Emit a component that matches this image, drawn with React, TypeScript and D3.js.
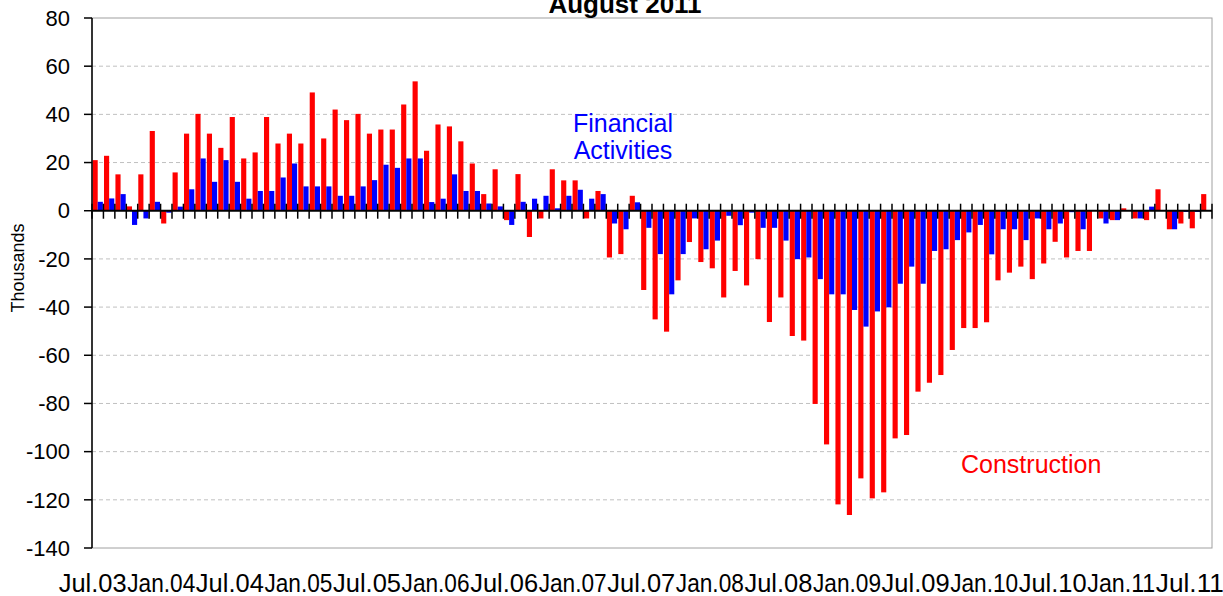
import React from 'react';
import * as d3 from 'd3';

// monthly change, thousands of jobs, Jul.03 - Aug.11
const construction = [
  21.0, 22.8, 15.1, 1.8, 15.1, 33.1, -5.3, 15.9, 32.0, 40.2, 32.0, 26.1,
  38.9, 21.7, 24.2, 38.9, 27.9, 32.0, 27.9, 49.1, 30.0, 42.0, 37.6, 40.2,
  32.0, 33.7, 33.7, 44.1, 53.7, 24.9, 35.8, 35.0, 28.8, 19.6, 6.9, 17.2,
  -3.9, 15.2, -10.9, -3.2, 17.2, 12.6, 12.6, -3.2, 8.2, -19.4, -18.0, 6.2,
  -32.9, -45.1, -50.2, -28.9, -13.0, -21.3, -23.9, -36.0, -25.0, -31.0, -20.1, -46.2,
  -36.0, -52.0, -53.9, -80.2, -97.0, -121.9, -126.3, -111.1, -119.4, -116.9, -94.5, -93.1,
  -75.1, -71.4, -68.2, -57.8, -48.7, -48.7, -46.3, -28.9, -25.7, -23.2, -28.4, -21.9,
  -12.9, -19.4, -16.7, -16.7, -3.2, -3.9, 1.0, -3.2, -3.9, 8.9, -7.7, -5.3,
  -7.3, 6.9,
];

const financial = [
  3.7, 5.1, 6.9, -5.9, -3.2, 3.7, -0.8, 1.7, 8.9, 21.7, 12.0, 21.0,
  12.0, 5.0, 8.2, 8.2, 13.8, 19.6, 10.1, 10.1, 10.1, 6.2, 6.2, 10.1,
  12.7, 19.1, 17.8, 21.7, 21.7, 3.6, 5.0, 15.1, 8.2, 8.2, 3.0, 1.8,
  -5.9, 3.7, 5.0, 6.2, 1.0, 6.2, 8.7, 5.0, 6.9, -5.3, -7.7, 3.5,
  -7.1, -18.0, -34.7, -18.0, -3.2, -16.0, -12.4, -2.1, -6.0, -0.8, -7.1, -7.1,
  -12.4, -20.1, -19.4, -28.4, -34.7, -34.7, -41.2, -48.1, -41.8, -40.1, -30.3, -23.2,
  -30.3, -16.7, -16.0, -12.2, -9.0, -5.9, -18.1, -7.7, -7.7, -12.2, -3.2, -7.7,
  -5.3, -0.6, -7.7, 0, -5.3, -3.9, 0, -3.2, 1.7, 0, -7.7, -0.5,
  -0.5, 0,
];

const months = d3
  .timeMonth.range(new Date(2003, 6, 1), new Date(2011, 8, 1))
  .map(d3.timeFormat('%b.%y'));

const tickLabels = [
  'Jul.03', 'Jan.04', 'Jul.04', 'Jan.05', 'Jul.05', 'Jan.06', 'Jul.06', 'Jan.07',
  'Jul.07', 'Jan.08', 'Jul.08', 'Jan.09', 'Jul.09', 'Jan.10', 'Jul.10', 'Jan.11', 'Jul.11',
];

const yTicks = [80, 60, 40, 20, 0, -20, -40, -60, -80, -100, -120, -140];

const series = ['construction', 'financial'];
const colors: Record<string, string> = { construction: '#ff0000', financial: '#0000ff' };

const dims = { width: 1223, height: 596, left: 92, right: 1212, top: 18, bottom: 548 };
const font = '"Liberation Sans", Arial, sans-serif';

const App = () => {
  const x = d3
    .scaleBand<string>()
    .domain(months)
    .range([dims.left, dims.right])
    .paddingInner(0.1)
    .paddingOuter(0.05);
  const xSub = d3.scaleBand<string>().domain(series).range([0, x.bandwidth()]);
  const y = d3.scaleLinear().domain([-140, 80]).range([dims.bottom, dims.top]);

  const gap = (x.step() - x.bandwidth()) / 2;
  const boundaries = months.map((m) => (x(m) as number) - gap).concat([dims.right]);

  const rows = months.map((m, i) => ({
    month: m,
    construction: construction[i],
    financial: financial[i],
  }));

  return (
    <svg
      width={dims.width}
      height={dims.height}
      style={{ position: 'absolute', left: 0, top: 0, background: '#fff' }}
      fontFamily={font}
    >
      <rect width={dims.width} height={dims.height} fill="#fff" />

      {/* gridlines */}
      {yTicks
        .filter((t) => t !== 0 && t !== 80 && t !== -140)
        .map((t) => (
          <line
            key={t}
            x1={dims.left}
            x2={dims.right}
            y1={y(t)}
            y2={y(t)}
            stroke="#c0c0c0"
            strokeDasharray="4,3"
          />
        ))}

      {/* plot border */}
      <rect
        x={dims.left}
        y={dims.top}
        width={dims.right - dims.left}
        height={dims.bottom - dims.top}
        fill="none"
        stroke="#a0a0a0"
      />

      {/* bars */}
      {rows.map((r) =>
        series.map((s) => {
          const v = (r as any)[s] as number;
          return (
            <rect
              key={r.month + s}
              x={(x(r.month) as number) + (xSub(s) as number)}
              y={y(Math.max(0, v))}
              width={xSub.bandwidth()}
              height={Math.abs(y(v) - y(0))}
              fill={colors[s]}
            />
          );
        })
      )}

      {/* zero line with category ticks */}
      <line x1={dims.left} x2={dims.right} y1={y(0)} y2={y(0)} stroke="#000" strokeWidth={2} />
      {boundaries.map((bx, i) => (
        <line key={i} x1={bx} x2={bx} y1={y(0) - 7} y2={y(0) + 8} stroke="#000" strokeWidth={1.5} />
      ))}

      {/* left axis */}
      <line x1={dims.left} x2={dims.left} y1={dims.top} y2={dims.bottom} stroke="#000" strokeWidth={1.5} />
      {yTicks.map((t) => (
        <g key={t}>
          <line x1={dims.left - 8} x2={dims.left} y1={y(t)} y2={y(t)} stroke="#000" strokeWidth={1.5} />
          <text x={70} y={y(t)} dy="0.35em" textAnchor="end" fontSize={22} fill="#000">
            {t}
          </text>
        </g>
      ))}

      {/* x labels */}
      {tickLabels.map((l) => (
        <text
          key={l}
          x={(x(l) as number) + x.bandwidth() / 2 - 5}
          y={592}
          textAnchor="middle"
          fontSize={26}
          textLength={68}
          lengthAdjust="spacingAndGlyphs"
          fill="#000"
        >
          {l}
        </text>
      ))}

      <text
        transform={`translate(24,268) rotate(-90)`}
        textAnchor="middle"
        fontSize={18}
        fill="#000"
      >
        Thousands
      </text>

      <text x={625} y={13} textAnchor="middle" fontSize={26} fontWeight="bold" fill="#000">
        August 2011
      </text>

      <text x={623} y={132} textAnchor="middle" fontSize={25} fill="#0000ff">
        Financial
      </text>
      <text x={623} y={159} textAnchor="middle" fontSize={25} fill="#0000ff">
        Activities
      </text>
      <text x={961} y={473} textAnchor="start" fontSize={25} fill="#ff0000">
        Construction
      </text>
    </svg>
  );
};

export default App;
